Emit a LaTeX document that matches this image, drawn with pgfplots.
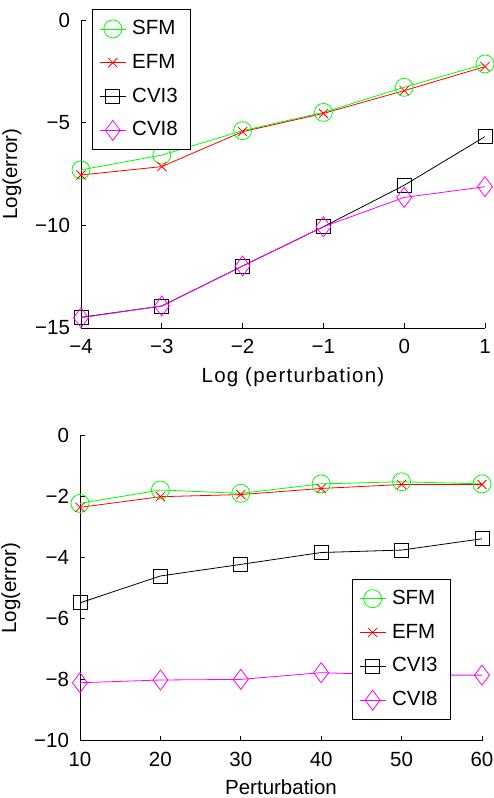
\documentclass[border=0pt]{standalone}
\usepackage{pgfplots}
\pgfplotsset{compat=1.18}
\usepackage{fontspec}
\setmainfont{Liberation Sans}
\newcommand{\bigf}{\fontsize{20.5}{24}\selectfont}
\definecolor{mag}{RGB}{255,0,255}
\definecolor{grn}{RGB}{0,255,0}
\definecolor{rd}{RGB}{255,0,0}
\begin{document}
\bigf
\begin{tikzpicture}[font=\bigf]
\pgfplotsset{
  myax/.style={
    scale only axis, clip=false,
    font=\bigf,
    every axis label/.append style={font=\bigf},
    every tick label/.append style={font=\bigf},
    axis x line*=bottom, axis y line*=left,
    tick align=inside, major tick length=5pt,
    axis line style={line width=0.8pt,-},
    every tick/.style={line width=0.8pt, black},
    x tick label style={yshift=-4pt},
    y tick label style={xshift=-4pt},
    legend cell align=left,
    legend style={draw=black, line width=1pt, fill=white,
      font=\bigf, row sep=12.5pt,
      inner xsep=7pt, inner ysep=8.5pt,
      nodes={inner xsep=6pt}},
    legend image code/.code={\draw[mark repeat=2,mark phase=2] plot coordinates {(0pt,0pt)(13pt,0pt)(26pt,0pt)};},
  },
  sfm/.style={color=grn, line width=0.8pt, mark=o, mark size=9pt, mark options={line width=0.8pt}},
  efm/.style={color=rd, line width=0.8pt, mark=x, mark size=6.5pt, mark options={line width=0.8pt}},
  cvi3/.style={color=black, line width=0.8pt, mark=square, mark size=7pt, mark options={line width=0.8pt}},
  cvi8/.style={color=mag, line width=0.8pt, mark=diamond, mark size=10pt, mark options={line width=0.8pt}},
}
\path[use as bounding box] (-80pt,-57.3pt) rectangle (413pt,740.7pt);
% top axis
\begin{axis}[myax, at={(1pt,412.7pt)}, anchor=south west,
  width=404pt, height=308pt,
  xmin=-4, xmax=1, ymin=-15, ymax=0,
  xtick={-4,-3,-2,-1,0,1}, xticklabels={−4,−3,−2,−1,0,1},
  ytick={-15,-10,-5,0}, yticklabels={−15,−10,−5,0},
  xlabel={\addfontfeature{LetterSpace=6}Log (perturbation)}, ylabel={Log(error)},
  xlabel style={xshift=10pt},
  legend style={at={(0.027,1.035)}, anchor=north west},
]
\addplot[sfm] coordinates {(-4,-7.3) (-3,-6.58) (-2,-5.39) (-1,-4.5) (0,-3.28) (1,-2.14)};
\addplot[efm] coordinates {(-4,-7.55) (-3,-7.14) (-2,-5.44) (-1,-4.55) (0,-3.44) (1,-2.27)};
\addplot[cvi3] coordinates {(-4,-14.48) (-3,-13.93) (-2,-11.98) (-1,-10.07) (0,-8.05) (1,-5.68)};
\addplot[cvi8] coordinates {(-4,-14.5) (-3,-13.93) (-2,-11.98) (-1,-10.07) (0,-8.64) (1,-8.12)};
\legend{SFM,EFM,CVI3,CVI8}
\end{axis}
% bottom axis
\begin{axis}[myax, at={(0pt,0pt)}, anchor=south west,
  width=402pt, height=305pt,
  xmin=10, xmax=60, ymin=-10, ymax=0,
  xtick={10,20,30,40,50,60}, xticklabels={10,20,30,40,50,60},
  ytick={-10,-8,-6,-4,-2,0}, yticklabels={−10,−8,−6,−4,−2,0},
  xlabel={Perturbation}, ylabel={Log(error)},
  legend style={at={(0.676,0.53)}, anchor=north west},
]
\addplot[sfm] coordinates {(10,-2.22) (20,-1.78) (30,-1.89) (40,-1.58) (50,-1.51) (60,-1.58)};
\addplot[efm] coordinates {(10,-2.35) (20,-2.0) (30,-1.93) (40,-1.73) (50,-1.6) (60,-1.6)};
\addplot[cvi3] coordinates {(10,-5.48) (20,-4.6) (30,-4.22) (40,-3.83) (50,-3.75) (60,-3.38)};
\addplot[cvi8] coordinates {(10,-8.1) (20,-8.01) (30,-7.99) (40,-7.77) (50,-7.85) (60,-7.85)};
\legend{SFM,EFM,CVI3,CVI8}
\end{axis}
\end{tikzpicture}
\end{document}
